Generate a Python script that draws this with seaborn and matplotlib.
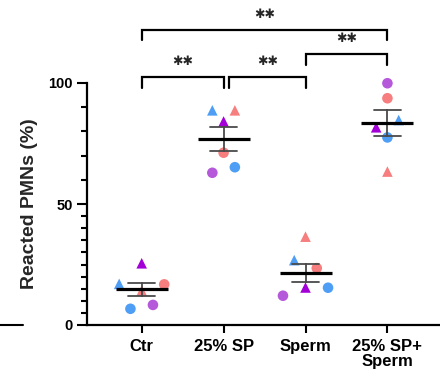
import numpy as np
import pandas as pd
import matplotlib
matplotlib.use("Agg")
import matplotlib.pyplot as plt
from matplotlib.lines import Line2D
from matplotlib.ticker import FixedLocator
import seaborn as sns

# ---------------- data ----------------
groups = ["Ctr", "25% SP", "Sperm", "25% SP+\nSperm"]

ctr_values = [14.2, 16.8, 17.0, 25.5, 6.7, 8.3]
ctr_donor = ["D2", "D2", "D1", "D3", "D1", "D3"]
ctr_exp = ["E1", "E2", "E1", "E1", "E2", "E2"]

sp_values = [88.7, 88.7, 84.1, 71.2, 62.9, 65.2]
sp_donor = ["D1", "D2", "D3", "D2", "D3", "D1"]
sp_exp = ["E1", "E1", "E1", "E2", "E2", "E2"]

sperm_values = [15.5, 15.4, 12.1, 26.8, 23.5, 36.5]
sperm_donor = ["D3", "D1", "D3", "D1", "D2", "D2"]
sperm_exp = ["E1", "E2", "E2", "E1", "E2", "E1"]

spsperm_values = [99.9, 93.7, 81.7, 84.7, 77.5, 63.4]
spsperm_donor = ["D3", "D2", "D3", "D1", "D1", "D2"]
spsperm_exp = ["E2", "E2", "E1", "E1", "E2", "E1"]

comparisons = [(0, 1), (1, 2), (2, 3), (0, 3)]
comparison_labels = ["\u2731\u2731"] * 4

y_ticks = [0, 50, 100]
y_minor = [5, 10, 15, 20, 25, 30, 35, 40, 45, 60, 70, 80, 90]
y_label = "Reacted PMNs (%)"

# ---------------- styles ----------------
palette = {
    "D1-E1": "#4f9ef6", "D1-E2": "#4f9ef6",
    "D2-E1": "#f67e7e", "D2-E2": "#f67e7e",
    "D3-E1": "#a300d8", "D3-E2": "#b558da",
}
markers = {"E1": "^", "E2": "o"}


def row_layout(values, tol=3.6, step=0.275):
    """Prism-like row scatter: values close together share a row."""
    values = np.asarray(values, dtype=float)
    order = np.argsort(values, kind="stable")
    rows, cur = [], [order[0]]
    for a, b in zip(order[:-1], order[1:]):
        if values[b] - values[a] <= tol:
            cur.append(b)
        else:
            rows.append(cur)
            cur = [b]
    rows.append(cur)
    off = np.zeros(len(values))
    for r in rows:
        r = sorted(r)
        n = len(r)
        if n % 2:
            slots = [0] + [s for k in range(1, n // 2 + 1) for s in (k, -k)]
        else:
            slots = [s for k in range(n // 2) for s in (-(k + 0.5), k + 0.5)]
        for i, s in zip(r, slots):
            off[i] = s * step
    return off


frames = []
for gi, (vals, don, ex) in enumerate([
    (ctr_values, ctr_donor, ctr_exp),
    (sp_values, sp_donor, sp_exp),
    (sperm_values, sperm_donor, sperm_exp),
    (spsperm_values, spsperm_donor, spsperm_exp),
]):
    d = pd.DataFrame({"group": groups[gi], "value": vals, "donor": don, "exp": ex})
    d["xpos"] = gi + row_layout(vals)
    d["combo"] = d["donor"] + "-" + d["exp"]
    frames.append(d)
df = pd.concat(frames, ignore_index=True)

# ---------------- figure ----------------
sns.set_theme(style="ticks")
plt.rcParams["font.family"] = ["Liberation Sans", "DejaVu Sans"]
plt.rcParams["font.weight"] = "bold"

fig = plt.figure(figsize=(4.4, 3.78), dpi=100)
ax = fig.add_axes([87.3 / 440, 53 / 378, 1 - 87.3 / 440, 242 / 378])

sns.pointplot(
    data=df, x="group", y="value", order=groups, errorbar="se", capsize=0.33,
    color="black", marker="_", markersize=38, markeredgewidth=2.3,
    linestyle="none", err_kws={"color": "#4a4a4a", "linewidth": 1.3}, ax=ax,
)
sns.scatterplot(
    data=df, x="xpos", y="value", hue="combo", style="exp", palette=palette,
    markers=markers, s=58, linewidth=0, legend=False, clip_on=False, ax=ax, zorder=1,
)
for ln in ax.lines:
    ln.set_zorder(4 if ln.get_marker() == "_" else 3)
    ln.set_clip_on(False)

ax.set_xlim(-0.664, 3.642)
ax.set_ylim(0, 100)
ax.set_yticks(y_ticks)
ax.yaxis.set_minor_locator(FixedLocator(y_minor))
ax.set_xticks(range(len(groups)))
ax.set_xticklabels(groups, fontsize=12, fontweight="bold", linespacing=1.0)
ax.set_yticklabels([str(t) for t in y_ticks], fontsize=10.5, fontweight="bold")
ax.set_xlabel("")
ax.set_ylabel(y_label, fontsize=14, fontweight="bold", labelpad=7)

for side in ["top", "right"]:
    ax.spines[side].set_visible(False)
for side in ["left", "bottom"]:
    ax.spines[side].set_linewidth(1.6)
    ax.spines[side].set_color("black")
ax.tick_params(axis="y", which="major", length=7.5, width=1.5, pad=3, colors="black")
ax.tick_params(axis="y", which="minor", length=4.2, width=1.5, colors="black")
ax.tick_params(axis="x", which="major", length=6, width=1.5, pad=4, colors="black")

# significance brackets
levels = [102.4, 102.4, 111.9, 122.1]
leg_drop = 4.5
shrink = {(1, 2): (0.07, 0.0)}
for (a, b), lab, lev in zip(comparisons, comparison_labels, levels):
    sa, sb = shrink.get((a, b), (0.0, 0.0))
    xa, xb = a + sa, b - sb
    ax.plot([xa, xa, xb, xb], [lev - leg_drop, lev, lev, lev - leg_drop],
            color="black", lw=1.6, clip_on=False, solid_joinstyle="miter")
    ax.text((xa + xb) / 2, lev + 6.4, lab, ha="center", va="center",
            fontsize=9, fontweight="bold", family="DejaVu Sans")

# stray short line at the left edge
fig.add_artist(Line2D([0, 23 / 440], [53 / 378, 53 / 378], color="black", lw=1.5))

fig.savefig("out.png", dpi=100)
